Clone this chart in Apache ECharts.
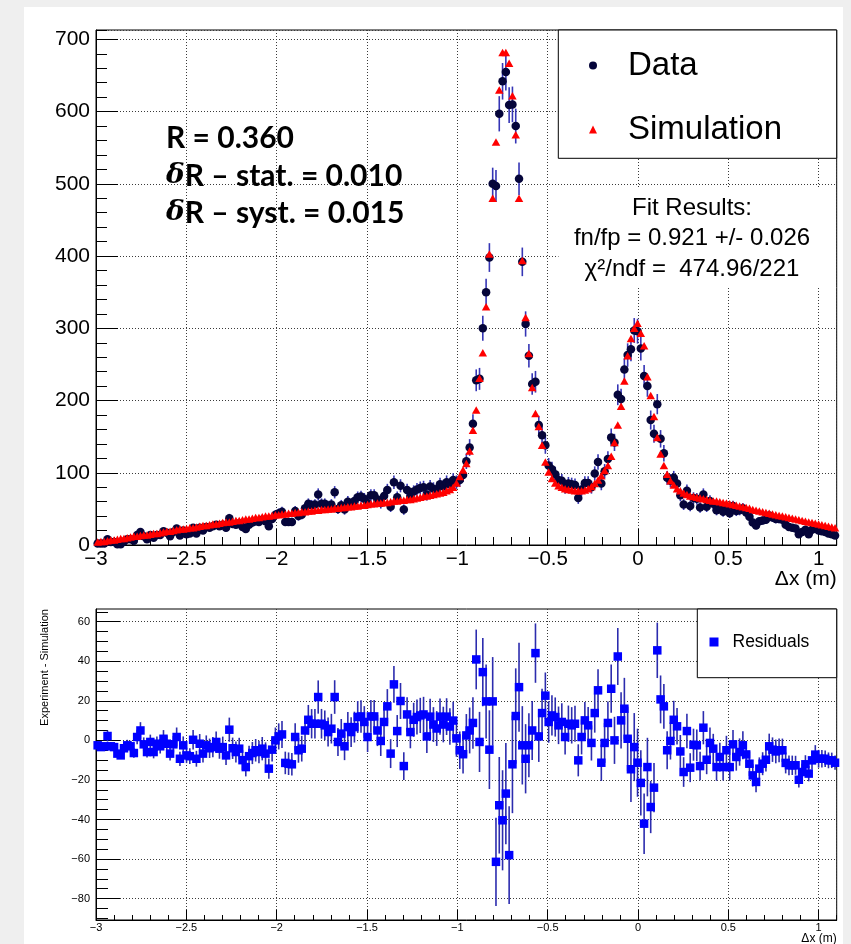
<!DOCTYPE html>
<html><head><meta charset="utf-8">
<script src="https://cdn.jsdelivr.net/npm/echarts@6/dist/echarts.min.js"></script>
<style>
html,body{margin:0;padding:0;background:#efefef;width:851px;height:944px;overflow:hidden;}
#paper{position:absolute;left:24px;top:7px;width:819px;height:937px;background:#fff;}
#c{position:absolute;left:0;top:0;width:851px;height:944px;}
</style>
</head><body><div id="paper"></div><div id="c"></div><script>
// histogram binning (x axis in metres)
const X_MIN = -3, X_MAX = 1.1, N_BINS = 225;
const BIN_W = (X_MAX - X_MIN) / N_BINS;

// Simulation counts per bin
const simCounts = [
4,5,5,6,7,7,8,9,9,10, 11,12,12,13,14,14,15,16,16,17, 18,19,19,20,21,22,22,23,24,24,
25,26,27,27,28,29,29,30,31,32, 32,33,34,34,35,36,36,37,38,38, 39,40,40,41,42,42,43,43,44,44,
45,45,46,46,47,47,48,48,49,49, 50,50,51,51,52,52,53,53,54,54, 55,55,56,57,57,58,58,59,59,60,
61,61,62,62,63,63,64,65,66,67, 68,69,70,71,72,73,75,77,80,86, 95,104,113,130,159,187,231,266,330,403,
480,558,630,682,682,667,622,568,480,394, 315,265,218,182,164,138,115,101,92,86, 82,80,78,77,76,75,75,75,76,78,
81,85,90,96,103,110,123,142,166,192, 227,262,286,300,307,293,276,233,207,178, 149,126,110,98,89,83,78,75,72,70,
68,67,66,65,64,63,62,61,61,60, 59,58,57,56,55,54,53,52,51,49, 48,47,46,45,44,43,42,41,40,39,
38,37,36,35,34,33,32,31,30,29, 28,27,26,25,24];

// Data (experiment) counts per bin
const dataCounts = [
2,2,2,8,4,4,1,1,5,8, 8,6,14,18,12,8,14,10,14,14, 19,17,12,18,23,13,20,15,16,24,
16,24,20,25,24,26,28,26,28,24, 37,29,28,30,25,22,28,31,33,32, 35,33,26,36,42,44,46,32,32,32,
47,40,42,51,57,55,56,70,57,57, 54,56,73,50,55,49,60,57,61,66, 67,64,58,69,69,63,58,68,76,53,
87,66,82,49,76,67,74,77,79,80, 70,81,78,77,84,81,87,84,90,87, 90,97,116,135,168,228,230,300,350,398,
500,497,597,642,655,609,610,580,507,392, 306,262,223,226,166,152,138,110,105,98, 90,89,80,85,84,83,65,77,86,86,
80,99,115,85,102,119,149,142,208,202, 243,263,271,297,296,272,234,220,173,154, 195,147,127,93,89,93,85,69,56,75,
54,65,64,52,70,53,61,57,48,52, 46,53,44,54,47,48,51,45,39,31, 27,33,34,35,41,38,36,36,35,28,
25,24,23,15,18,21,15,21,23,20, 19,18,16,15,13];

// statistical uncertainty of each data bin
const dataErrors = [
1.4,1.4,1.4,2.8,2,2,1,1,2.2,2.8, 2.8,2.4,3.7,4.2,3.5,2.8,3.7,3.2,3.7,3.7, 4.4,4.1,3.5,4.2,4.8,3.6,4.5,3.9,4,4.9,
4,4.9,4.5,5,4.9,5.1,5.3,5.1,5.3,4.9, 6.1,5.4,5.3,5.5,5,4.7,5.3,5.6,5.7,5.7, 5.9,5.7,5.1,6,6.5,6.6,6.8,5.7,5.7,5.7,
6.9,6.3,6.5,7.1,7.5,7.4,7.5,8.4,7.5,7.5, 7.3,7.5,8.5,7.1,7.4,7,7.7,7.5,7.8,8.1, 8.2,8,7.6,8.3,8.3,7.9,7.6,8.2,8.7,7.3,
9.3,8.1,9.1,7,8.7,8.2,8.6,8.8,8.9,8.9, 8.4,9,8.8,8.8,9.2,9,9.3,9.2,9.5,9.3, 9.5,9.8,10.8,11.6,13,15.1,15.2,17.3,18.7,19.9,
22.4,22.3,24.4,25.3,25.6,24.7,24.7,24.1,22.5,19.8, 17.5,16.2,14.9,15,12.9,12.3,11.7,10.5,10.2,9.9, 9.5,9.4,8.9,9.2,9.2,9.1,8.1,8.8,9.3,9.3,
8.9,9.9,10.7,9.2,10.1,10.9,12.2,11.9,14.4,14.2, 15.6,16.2,16.5,17.2,17.2,16.5,15.3,14.8,13.2,12.4, 14,12.1,11.3,9.6,9.4,9.6,9.2,8.3,7.5,8.7,
7.3,8.1,8,7.2,8.4,7.3,7.8,7.5,6.9,7.2, 6.8,7.3,6.6,7.3,6.9,6.9,7.1,6.7,6.2,5.6, 5.2,5.7,5.8,5.9,6.4,6.2,6,6,5.9,5.3,
5,4.9,4.8,3.9,4.2,4.6,3.9,4.6,4.8,4.5, 4.4,4.2,4,3.9,3.6];

// Experiment - Simulation per bin
const residuals = [
-2.5,-3.4,-3,2.2,-3,-3.4,-6.7,-7.6,-4,-2.5, -3,-6.4,1.7,5,-2,-5.9,-0.8,-5.9,-1.7,-3, 0.8,-1.7,-6.7,-2,1.7,-9.3,-2.5,-7.6,-8,0.3,
-9.3,-1.7,-6.7,-2.5,-4,-3.4,-0.8,-4.2,-3.4,-7.6, 5.4,-4,-5.9,-4.2,-10,-13.5,-8,-6.4,-5,-5.9, -4.2,-6.7,-14.3,-4.7,0,2,3,-11.4,-11.8,-12.1,
1.7,-5,-4.2,5,10.4,8.4,8.4,21.9,8.4,7.6, 4.2,5.9,21.9,-0.8,3.4,-3,6.7,4.2,6.7,11.8, 12.1,9.3,1.7,12.1,12.1,5,-0.3,9.3,17.2,-6.7,
28.3,4.7,19.9,-13,13.1,4.2,10.4,11.8,12.6,13.1, 2,12,8,6,12,8,12,7,10,1, -5,-7,2.5,5,8.8,40.9,-0.8,34.5,19.7,-4.7,
19.7,-61.4,-32.8,-40.4,-26.9,-58,-12.1,12.3,26.9,-2.5, -9.3,-2.5,5,44.1,2,13.8,22.6,9.3,12.6,11.8, 7.6,9.3,1.7,8.4,7.6,8.4,-10.1,1.7,10.1,7.6,
-1.3,13.8,25.3,-11.3,-1.3,8.8,26.1,0,42.4,10.1, 16,0.8,-14.6,-3.4,-11.3,-21.5,-42.1,-13.5,-33.7,-23.9, 45.5,20.7,17.2,-5,-0.3,10.4,7.1,-5.6,-16,4.7,
-13.8,-2.2,-2.5,-13,6.4,-9.8,-1.3,-4.2,-13.5,-8.4, -13.5,-5,-13.5,-2,-8.4,-5.9,-2.5,-7.1,-11.8,-17.7, -21,-14.3,-11.8,-9.8,-3,-4.7,-5.6,-5,-5,-11.4,
-12.6,-12.6,-12.6,-19.9,-16,-12.1,-16.8,-10.1,-7.2,-9.3, -9.3,-9.3,-10.1,-10.1,-11.3];

// tick positions of the residual panel
const resMajorTicks = [-80,-60,-40,-20,0,20,40,60];
const resMinorTicks = [-90,-85,-80,-75,-70,-65,-60,-55,-50,-45,-40,-35,-30,-25,-20,-15,-10,-5,0,5,10,15,20,25,30,35,40,45,50,55,60,65];

const binCenters = simCounts.map((_, i) => X_MIN + (i + 0.5) * BIN_W);

const FONT = 'Liberation Sans, Arial, Helvetica, sans-serif';
const fmt = v => (v < 0 ? '\u2212' : '') + String(Math.abs(Math.round(v * 1000) / 1000));

function errBar(color, width) {
  return function (params, api) {
    const x = api.value(0), y = api.value(1), e = api.value(2);
    const p1 = api.coord([x, y - e]);
    const p2 = api.coord([x, y + e]);
    return { type: 'line', shape: { x1: p1[0], y1: p1[1], x2: p2[0], y2: p2[1] },
             style: { stroke: color, lineWidth: width } };
  };
}

const dotted = { show: true, lineStyle: { color: '#3a3a3a', width: 1, type: [1, 2] } };

function majorX(grid, tickLen, fontSize, margin, nameSize, namePad) {
  return { type: 'value', gridIndex: grid, min: X_MIN, max: X_MAX, interval: 0.5, position: 'bottom',
    axisLine: { show: true, onZero: false, lineStyle: { color: '#000', width: 1 } },
    axisTick: { show: true, inside: true, length: tickLen, lineStyle: { color: '#000', width: 1 } },
    axisLabel: { formatter: fmt, fontFamily: FONT, fontSize: fontSize, color: '#000', margin: margin, showMaxLabel: false },
    splitLine: dotted,
    name: 'Δx (m)', nameLocation: 'end', nameGap: 0, nameMoveOverlap: false,
    nameTextStyle: { fontFamily: FONT, fontSize: nameSize, color: '#000', align: 'right', verticalAlign: 'top', padding: [namePad, 0, 0, 0] } };
}
function minorX(grid, tickLen) {
  return { type: 'value', gridIndex: grid, min: X_MIN, max: X_MAX, interval: 0.1, position: 'bottom',
    axisLine: { show: false, onZero: false }, axisLabel: { show: false }, splitLine: { show: false },
    axisTick: { show: true, inside: true, length: tickLen, lineStyle: { color: '#000', width: 1 } } };
}

const option = {
  animation: false,
  grid: [
    { left: 96, top: 30, width: 740.7, height: 515, show: true, borderColor: '#000', borderWidth: 1, outerBoundsMode: 'none' },
    { left: 96, top: 609, width: 740.7, height: 311, show: true, borderColor: '#000', borderWidth: 1, outerBoundsMode: 'none' }
  ],
  xAxis: [ majorX(0, 16, 20.5, 4, 21, 24), minorX(0, 8), majorX(1, 10, 11, 2, 12, 13), minorX(1, 5) ],
  yAxis: [
    { type: 'value', gridIndex: 0, min: 0, max: 713, interval: 100, position: 'left',
      axisLine: { show: true, onZero: false, lineStyle: { color: '#000', width: 1 } },
      axisTick: { show: true, inside: true, length: 22, lineStyle: { color: '#000', width: 1 } },
      axisLabel: { fontFamily: FONT, fontSize: 21, color: '#000', margin: 6, showMaxLabel: false, formatter: fmt },
      splitLine: dotted },
    { type: 'value', gridIndex: 0, min: 0, max: 713, interval: 20, position: 'left',
      axisLine: { show: false, onZero: false }, axisLabel: { show: false }, splitLine: { show: false },
      axisTick: { show: true, inside: true, length: 11, lineStyle: { color: '#000', width: 1 } } },
    { type: 'value', gridIndex: 1, min: -90.8, max: 66.4, splitNumber: 8, position: 'left',
      axisLine: { show: true, onZero: false, lineStyle: { color: '#000', width: 1 } },
      axisTick: { show: true, inside: true, length: 24, customValues: resMajorTicks, lineStyle: { color: '#000', width: 1 } },
      axisLabel: { fontFamily: FONT, fontSize: 11, color: '#000', margin: 6, customValues: resMajorTicks, formatter: fmt },
      splitLine: dotted,
      name: 'Experiment - Simulation', nameLocation: 'middle', nameGap: 46, nameMoveOverlap: false,
      nameTextStyle: { fontFamily: FONT, fontSize: 11, color: '#000', padding: [0, 0, 0, 194] } },
    { type: 'value', gridIndex: 1, min: -90.8, max: 66.4, position: 'left',
      axisLine: { show: false, onZero: false }, axisLabel: { show: false }, splitLine: { show: false },
      axisTick: { show: true, inside: true, length: 12, customValues: resMinorTicks, lineStyle: { color: '#000', width: 1 } } }
  ],
  legend: [
    { data: [{ name: 'Data', icon: 'circle' }, { name: 'Simulation', icon: 'triangle' }],
      orient: 'vertical', left: 589, top: 49, padding: 0, itemWidth: 8, itemHeight: 8, itemGap: 31, selectedMode: false, z: 10,
      textStyle: { fontFamily: FONT, fontSize: 33, color: '#000', lineHeight: 32, padding: [0, 0, 0, 26] } },
    { data: [{ name: 'Residuals', icon: 'rect' }],
      orient: 'vertical', left: 709.5, top: 632, padding: 0, itemWidth: 9, itemHeight: 9, selectedMode: false, z: 10,
      textStyle: { fontFamily: FONT, fontSize: 17.5, color: '#000', lineHeight: 20, padding: [0, 0, 0, 9] } }
  ],
  graphic: { elements: [
    { type: 'rect', z: 5, shape: { x: 558.3, y: 30, width: 278.4, height: 128.3 }, style: { fill: '#fff', stroke: '#000', lineWidth: 1 } },
    { type: 'rect', z: 5, shape: { x: 558.5, y: 188, width: 277.5, height: 98 }, style: { fill: '#fff' } },
    { type: 'rect', z: 5, shape: { x: 697.3, y: 609, width: 139.4, height: 68.7 }, style: { fill: '#fff', stroke: '#000', lineWidth: 1 } },
    { type: 'text', z: 10, x: 166, y: 138, style: { text: 'R = 0.360', fontFamily: 'Lato', fontWeight: 'bold', fontSize: 30, fill: '#000', verticalAlign: 'middle' } },
    { type: 'text', z: 10, x: 166, y: 176, style: { text: '{d|δ}R – stat. = 0.010', fontFamily: 'Lato', fontWeight: 'bold', fontSize: 30, fill: '#000', verticalAlign: 'middle',
        rich: { d: { fontFamily: 'DejaVu Serif', fontStyle: 'italic', fontWeight: 'bold', fontSize: 28, fill: '#000' } } } },
    { type: 'text', z: 10, x: 166, y: 213, style: { text: '{d|δ}R – syst. = 0.015', fontFamily: 'Lato', fontWeight: 'bold', fontSize: 30, fill: '#000', verticalAlign: 'middle',
        rich: { d: { fontFamily: 'DejaVu Serif', fontStyle: 'italic', fontWeight: 'bold', fontSize: 28, fill: '#000' } } } },
    { type: 'text', z: 10, x: 692, y: 208, style: { text: 'Fit Results:', fontFamily: FONT, fontSize: 24, fill: '#000', align: 'center', verticalAlign: 'middle' } },
    { type: 'text', z: 10, x: 692, y: 238, style: { text: 'fn/fp = 0.921 +/- 0.026', fontFamily: FONT, fontSize: 24, fill: '#000', align: 'center', verticalAlign: 'middle' } },
    { type: 'text', z: 10, x: 692, y: 269, style: { text: 'χ²/ndf =  474.96/221', fontFamily: FONT, fontSize: 24, fill: '#000', align: 'center', verticalAlign: 'middle' } }
  ] },
  series: [
    { type: 'custom', name: 'Data errors', xAxisIndex: 0, yAxisIndex: 0, clip: true, silent: true, z: 2,
      encode: { x: 0, y: 1 }, renderItem: errBar('#3535b5', 1.6),
      data: binCenters.map((x, i) => [x, dataCounts[i], dataErrors[i]]) },
    { type: 'scatter', name: 'Data', xAxisIndex: 0, yAxisIndex: 0, symbol: 'circle', symbolSize: 8.5, z: 3, silent: true,
      itemStyle: { color: '#05053a', opacity: 1 },
      data: binCenters.map((x, i) => [x, dataCounts[i]]) },
    { type: 'scatter', name: 'Simulation', xAxisIndex: 0, yAxisIndex: 0, symbol: 'triangle', symbolSize: [8.5, 7.5], z: 4, silent: true,
      itemStyle: { color: '#ff0000', opacity: 1 },
      data: binCenters.map((x, i) => [x, simCounts[i]]) },
    { type: 'custom', name: 'Residual errors', xAxisIndex: 2, yAxisIndex: 2, clip: true, silent: true, z: 2,
      encode: { x: 0, y: 1 }, renderItem: errBar('#2c2cae', 1.6),
      data: binCenters.map((x, i) => [x, residuals[i], dataErrors[i]]) },
    { type: 'scatter', name: 'Residuals', xAxisIndex: 2, yAxisIndex: 2, symbol: 'rect', symbolSize: 8.5, z: 3, silent: true,
      itemStyle: { color: '#0000ff', opacity: 1 },
      data: binCenters.map((x, i) => [x, residuals[i]]) }
  ]
};

const chart = echarts.init(document.getElementById('c'), null, { renderer: 'canvas', width: 851, height: 944 });
chart.setOption(option);
</script></body></html>
